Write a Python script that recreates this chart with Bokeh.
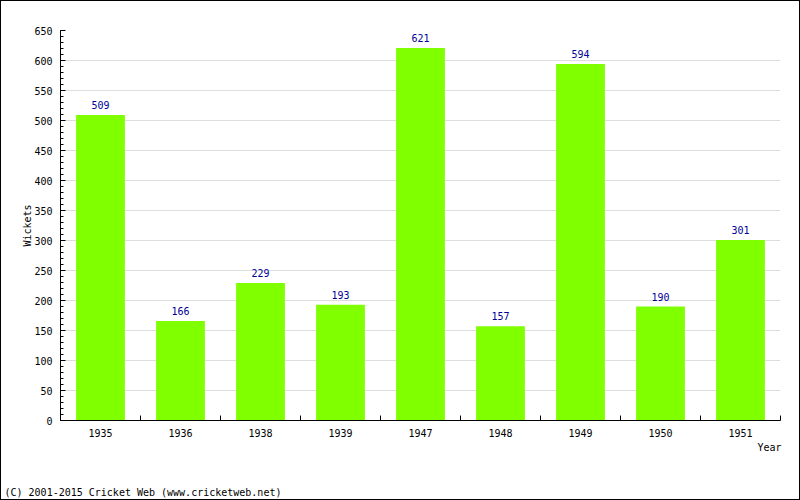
from bokeh.plotting import figure
from bokeh.layouts import column
from bokeh.models import FixedTicker, Range1d, Title
from bokeh.embed import file_html
from bokeh.resources import INLINE
from bokeh.core.properties import value

years = ["1935", "1936", "1938", "1939", "1947", "1948", "1949", "1950", "1951"]
wickets = [509, 166, 229, 193, 621, 157, 594, 190, 301]
y_major = list(range(0, 651, 50))
y_minor = list(range(0, 651, 10))

FONT = "DejaVu Sans Mono"
xs = [i + 0.5 for i in range(len(years))]
bounds = list(range(0, len(years) + 1))

p = figure(width=798, height=498, output_backend="svg", toolbar_location=None,
           x_range=Range1d(0, len(years)), y_range=Range1d(0, 650),
           min_border_left=59, min_border_right=19, min_border_top=29,
           min_border_bottom=79)
p.outline_line_color = None
p.background_fill_color = "white"
p.border_fill_color = "white"

p.vbar(x=xs, top=wickets, width=0.61, bottom=0, fill_color="#80FF00", line_color=None)
p.text(x=xs, y=wickets, text=[str(w) for w in wickets], text_align="center",
       text_baseline="alphabetic", y_offset=-10, text_color="#000099",
       text_font=value(FONT), text_font_size="10px")

# y axis
ya = p.yaxis[0]
ya.ticker = FixedTicker(ticks=y_major, minor_ticks=y_minor)
ya.major_tick_in = 5
ya.major_tick_out = 0
ya.minor_tick_in = 3
ya.minor_tick_out = 0
ya.major_tick_line_color = "black"
ya.minor_tick_line_color = "black"
ya.major_label_standoff = 8
ya.major_label_text_font = FONT
ya.major_label_text_font_size = "10px"
ya.major_label_text_color = "black"
ya.axis_label = "Wickets"
ya.axis_label_text_font = FONT
ya.axis_label_text_font_size = "10px"
ya.axis_label_text_font_style = "normal"
ya.axis_label_text_color = "black"
ya.axis_label_standoff = -2
ya.axis_line_color = "black"

# x axis
xa = p.xaxis[0]
xa.ticker = FixedTicker(ticks=xs, minor_ticks=bounds)
xa.major_label_overrides = {x: y for x, y in zip(xs, years)}
xa.major_tick_in = 0
xa.major_tick_out = 0
xa.minor_tick_in = 5
xa.minor_tick_out = 0
xa.minor_tick_line_color = "black"
xa.major_label_standoff = 8
xa.major_label_text_font = FONT
xa.major_label_text_font_size = "10px"
xa.major_label_text_color = "black"
xa.axis_line_color = "black"

p.xgrid.visible = False
p.ygrid.ticker = FixedTicker(ticks=y_major)
p.ygrid.grid_line_color = "#dddddd"

p.add_layout(Title(text="Year", align="right", text_font=FONT, text_font_size="10px",
                   text_font_style="normal", text_color="black", standoff=0,
                   offset=-1), "below")
# spacer between the axis title and the footer
p.add_layout(Title(text=" ", align="left", text_font=FONT, text_font_size="10px",
                   text_font_style="normal", standoff=19), "below")
p.add_layout(Title(text="(C) 2001-2015 Cricket Web (www.cricketweb.net)", align="left",
                   text_font=FONT, text_font_size="10px", text_font_style="normal",
                   text_color="black", standoff=0, offset=-56), "below")

layout = column(p, styles={"border": "1px solid black"})
open("out.html", "w").write(file_html(layout, INLINE))
